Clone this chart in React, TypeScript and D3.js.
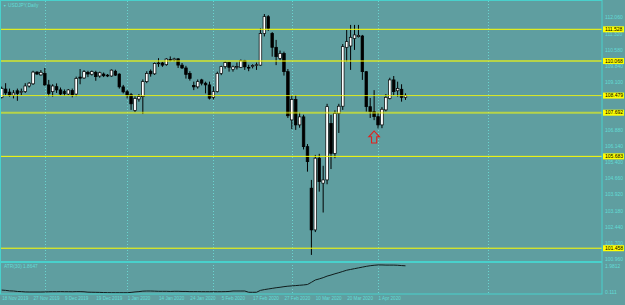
import React, { useEffect, useRef } from "react";
import * as d3 from "d3";

// daily bars, USDJPY
const dates = [
  "2019-11-15", "2019-11-18", "2019-11-19", "2019-11-20", "2019-11-21", "2019-11-22", "2019-11-25", "2019-11-26", "2019-11-27", "2019-11-28", "2019-11-29",
  "2019-12-02", "2019-12-03", "2019-12-04", "2019-12-05", "2019-12-06", "2019-12-09", "2019-12-10", "2019-12-11", "2019-12-12", "2019-12-13",
  "2019-12-16", "2019-12-17", "2019-12-18", "2019-12-19", "2019-12-20", "2019-12-23", "2019-12-24", "2019-12-26", "2019-12-27", "2019-12-30", "2019-12-31",
  "2020-01-02", "2020-01-03", "2020-01-06", "2020-01-07", "2020-01-08", "2020-01-09", "2020-01-10", "2020-01-13", "2020-01-14", "2020-01-15", "2020-01-16",
  "2020-01-17", "2020-01-20", "2020-01-21", "2020-01-22", "2020-01-23", "2020-01-24", "2020-01-27", "2020-01-28", "2020-01-29", "2020-01-30", "2020-01-31",
  "2020-02-03", "2020-02-04", "2020-02-05", "2020-02-06", "2020-02-07", "2020-02-10", "2020-02-11", "2020-02-12", "2020-02-13", "2020-02-14",
  "2020-02-17", "2020-02-18", "2020-02-19", "2020-02-20", "2020-02-21", "2020-02-24", "2020-02-25", "2020-02-26", "2020-02-27", "2020-02-28",
  "2020-03-02", "2020-03-03", "2020-03-04", "2020-03-05", "2020-03-06", "2020-03-09", "2020-03-10", "2020-03-11", "2020-03-12", "2020-03-13",
  "2020-03-16", "2020-03-17", "2020-03-18", "2020-03-19", "2020-03-20", "2020-03-23", "2020-03-24", "2020-03-25", "2020-03-26", "2020-03-27",
  "2020-03-30", "2020-03-31", "2020-04-01", "2020-04-02", "2020-04-03", "2020-04-06", "2020-04-07", "2020-04-08", "2020-04-09", "2020-04-10",
];

const open = [
  108.40, 108.78, 108.64, 108.50, 108.70, 108.62, 108.66, 108.92, 109.02, 109.56, 109.43,
  109.50, 108.97, 108.66, 108.89, 108.74, 108.66, 108.55, 108.71, 108.55, 109.33,
  109.29, 109.55, 109.46, 109.55, 109.38, 109.47, 109.42, 109.38, 109.60, 109.47, 108.88,
  108.66, 108.52, 107.80, 108.32, 108.43, 109.12, 109.60, 109.48, 109.95, 109.98, 109.90,
  110.14, 110.12, 110.17, 109.88, 109.75, 109.50, 108.95, 108.88, 109.20, 109.05, 108.97,
  108.40, 108.66, 109.50, 109.81, 110.00, 109.69, 109.80, 109.78, 110.08, 109.78,
  109.82, 109.88, 109.88, 111.34, 112.11, 111.34, 110.70, 110.19, 110.42, 109.58,
  107.36, 108.30, 107.13, 107.50, 106.13, 104.22, 102.30, 105.60, 104.45, 104.60,
  107.20, 105.82, 107.66, 107.99, 110.70, 110.76, 111.11, 111.19, 111.22, 109.58,
  107.97, 107.74, 107.51, 107.13, 107.82, 108.35, 109.20, 108.70, 108.77, 108.40,
];

const high = [
  108.89, 109.05, 108.80, 108.73, 108.80, 108.80, 109.05, 109.10, 109.62, 109.60, 109.65,
  109.75, 109.20, 109.00, 109.04, 108.85, 108.76, 108.78, 108.80, 109.35, 109.70,
  109.65, 109.62, 109.63, 109.62, 109.58, 109.54, 109.47, 109.68, 109.67, 109.50, 108.97,
  108.74, 108.60, 108.45, 108.55, 109.22, 109.60, 109.68, 110.00, 110.20, 110.03, 110.20,
  110.28, 110.22, 110.20, 109.98, 109.85, 109.60, 109.12, 109.22, 109.25, 109.12, 109.12,
  108.90, 109.58, 109.85, 110.05, 110.03, 109.86, 110.00, 110.14, 110.12, 109.90,
  109.92, 110.00, 111.57, 112.23, 112.18, 111.40, 111.04, 110.55, 110.50, 109.70,
  108.50, 108.50, 107.70, 107.60, 106.25, 104.60, 105.75, 105.80, 105.25, 108.10,
  107.59, 107.80, 108.10, 110.85, 111.50, 111.73, 111.73, 111.73, 111.27, 109.60,
  108.37, 108.73, 107.70, 107.95, 108.55, 109.30, 109.38, 109.12, 109.00, 108.58,
];

const low = [
  108.35, 108.50, 108.43, 108.35, 108.24, 108.50, 108.60, 108.85, 108.97, 109.43, 109.40,
  108.93, 108.45, 108.43, 108.60, 108.50, 108.46, 108.50, 108.40, 108.45, 109.00,
  109.25, 109.33, 109.40, 109.16, 109.30, 109.33, 109.33, 109.35, 109.38, 108.80, 108.58,
  108.35, 107.82, 107.72, 108.20, 107.63, 109.05, 109.35, 109.43, 109.80, 109.80, 109.85,
  110.05, 110.05, 109.75, 109.70, 109.26, 109.17, 108.73, 108.80, 108.95, 108.58, 108.30,
  108.30, 108.62, 109.42, 109.72, 109.58, 109.58, 109.68, 109.75, 109.66, 109.60,
  109.73, 109.66, 109.85, 111.20, 111.46, 110.27, 109.88, 110.10, 109.40, 107.45,
  106.94, 106.90, 107.00, 106.00, 104.98, 101.15, 102.20, 104.06, 103.10, 104.40,
  105.10, 105.60, 106.76, 107.82, 110.04, 109.66, 110.58, 111.15, 109.20, 107.74,
  107.45, 107.35, 106.97, 106.98, 107.75, 108.30, 108.50, 108.43, 108.20, 108.28,
];

const close = [
  108.81, 108.60, 108.50, 108.60, 108.58, 108.67, 108.92, 109.05, 109.56, 109.47, 109.55,
  108.97, 108.58, 108.92, 108.74, 108.55, 108.58, 108.74, 108.51, 109.27, 109.28,
  109.58, 109.47, 109.58, 109.35, 109.53, 109.39, 109.38, 109.65, 109.42, 108.88, 108.65,
  108.50, 108.10, 108.35, 108.43, 109.12, 109.50, 109.48, 109.96, 109.98, 109.88, 110.16,
  110.12, 110.17, 109.88, 109.75, 109.45, 109.27, 108.88, 109.12, 109.05, 108.97, 108.36,
  108.66, 109.50, 109.81, 110.00, 109.78, 109.80, 109.82, 110.08, 109.80, 109.77,
  109.86, 109.90, 111.34, 112.11, 111.57, 110.70, 110.27, 110.42, 109.58, 107.55,
  108.30, 107.13, 107.50, 106.13, 105.44, 102.30, 105.60, 104.52, 104.60, 107.97,
  105.82, 107.66, 107.99, 110.73, 110.96, 111.16, 111.27, 111.25, 109.58, 107.97,
  107.74, 107.51, 107.13, 107.85, 108.40, 109.20, 108.66, 108.81, 108.40, 108.48,
];

// ATR(30) values
const atr = [
  0.30, 0.28, 0.25, 0.24, 0.21, 0.20, 0.18, 0.175, 0.175, 0.175, 0.175,
  0.18, 0.19, 0.195, 0.195, 0.20, 0.195, 0.195, 0.19, 0.20, 0.20,
  0.19, 0.165, 0.16, 0.155, 0.15, 0.14, 0.135, 0.13, 0.13, 0.13, 0.13,
  0.13, 0.15, 0.18, 0.20, 0.23, 0.24, 0.24, 0.23, 0.22, 0.22, 0.22,
  0.21, 0.22, 0.22, 0.21, 0.21, 0.20, 0.20, 0.20, 0.195, 0.195, 0.195,
  0.195, 0.195, 0.195, 0.20, 0.21, 0.24, 0.24, 0.24, 0.24, 0.16,
  0.155, 0.16, 0.28, 0.33, 0.37, 0.41, 0.45, 0.48, 0.52, 0.55,
  0.57, 0.59, 0.61, 0.63, 0.66, 0.80, 0.95, 1.02, 1.10, 1.20,
  1.27, 1.35, 1.42, 1.50, 1.58, 1.63, 1.68, 1.73, 1.78, 1.83,
  1.87, 1.90, 1.92, 1.92, 1.91, 1.91, 1.91, 1.90, 1.88, 1.8647,
];

const priceTicks = [
  112.06, 111.32, 110.58, 109.84, 109.1, 108.36, 107.62, 106.88,
  106.14, 105.4, 104.66, 103.92, 103.18, 102.44, 101.7, 100.96,
];
const levels = [111.528, 110.068, 108.479, 107.692, 105.683, 101.458];
const timeLabels = [
  "18 Nov 2019", "27 Nov 2019", "9 Dec 2019", "19 Dec 2019", "1 Jan 2020", "14 Jan 2020", "24 Jan 2020",
  "5 Feb 2020", "17 Feb 2020", "27 Feb 2020", "10 Mar 2020", "20 Mar 2020", "1 Apr 2020",
];
const atrTicks = [1.9812, 0.111];
const arrowBar = 95;
const arrowPrice = 106.85;
const futureGridBar = 124;
const title = "USDJPY,Daily";
const atrName = "ATR(30)";

// styles kept apart from the values
const levelWidths = [1, 2, 1, 2, 1, 1];
const levelAlpha = [1, 0.55, 0.8, 0.55, 1, 1];

const BG = "#5f9ea0";
const CYAN = "#48d1cc";
const TXT = "#62dcd6";
const FONT = "'Liberation Sans', Arial, sans-serif";

const App = () => {
  const svgRef = useRef(null);

  useEffect(() => {
    drawChart();
  }, []);

  const drawChart = () => {
    const width = 625;
    const height = 305;
    const svg = d3.select(svgRef.current).attr("width", width).attr("height", height);
    svg.selectAll("*").remove();

    const xScale = d3.scaleLinear().domain([0, 153]).range([1.7, 601.5]);
    const yScale = d3.scaleLinear().domain([100.87, 112.784]).range([261, 2]);
    const atrScale = d3.scaleLinear().domain([0.111, 1.9812]).range([293, 264]);
    const axisX = 602;

    svg.append("rect").attr("width", width).attr("height", height).attr("fill", BG);

    // month grid
    const gridBars = dates
      .map((d, i) => (i > 0 && d.slice(5, 7) !== dates[i - 1].slice(5, 7) ? i : -1))
      .filter((i) => i > 0)
      .concat([futureGridBar]);
    svg
      .selectAll(".grid")
      .data(gridBars)
      .enter()
      .append("line")
      .attr("x1", (d) => Math.round(xScale(d)) + 0.5)
      .attr("x2", (d) => Math.round(xScale(d)) + 0.5)
      .attr("y1", 1)
      .attr("y2", 294)
      .attr("stroke", "#6fe3dd")
      .attr("stroke-width", 1)
      .attr("stroke-dasharray", "1,2")
      .attr("opacity", 0.8);

    // candles
    const bars = svg.append("g");
    dates.forEach((d, i) => {
      const x = xScale(i);
      bars
        .append("line")
        .attr("x1", x)
        .attr("x2", x)
        .attr("y1", yScale(high[i]))
        .attr("y2", yScale(low[i]))
        .attr("stroke", "#000")
        .attr("stroke-width", 1);
      const top = yScale(Math.max(open[i], close[i]));
      const bot = yScale(Math.min(open[i], close[i]));
      bars
        .append("rect")
        .attr("x", x - 1.3)
        .attr("width", 2.6)
        .attr("y", top)
        .attr("height", Math.max(bot - top, 0.8))
        .attr("fill", close[i] >= open[i] ? "#fff" : "#000")
        .attr("stroke", "#000")
        .attr("stroke-width", 0.7);
    });

    // horizontal levels
    svg
      .selectAll(".level")
      .data(levels)
      .enter()
      .append("line")
      .attr("x1", 1)
      .attr("x2", axisX)
      .attr("y1", (d) => yScale(d))
      .attr("y2", (d) => yScale(d))
      .attr("stroke", "#ffff00")
      .attr("stroke-width", (d, i) => levelWidths[i])
      .attr("stroke-opacity", (d, i) => levelAlpha[i]);

    // up arrow
    const ax = xScale(arrowBar);
    const ay = yScale(arrowPrice);
    svg
      .append("path")
      .attr(
        "d",
        `M${ax},${ay} L${ax + 5.3},${ay + 5.8} L${ax + 2.6},${ay + 5.8} L${ax + 2.6},${ay + 12} L${ax - 2.6},${ay + 12} L${ax - 2.6},${ay + 5.8} L${ax - 5.3},${ay + 5.8} Z`
      )
      .attr("fill", "none")
      .attr("stroke", "#e3201c")
      .attr("stroke-width", 1.1);

    // ATR window
    const atrLine = d3
      .line()
      .x((d, i) => xScale(i))
      .y((d) => atrScale(d));
    svg
      .append("path")
      .datum(atr)
      .attr("d", atrLine)
      .attr("fill", "none")
      .attr("stroke", "#101c1c")
      .attr("stroke-width", 1);

    // frames
    svg
      .append("rect")
      .attr("x", 0.5)
      .attr("y", 0.5)
      .attr("width", axisX - 0.5)
      .attr("height", 293.5)
      .attr("fill", "none")
      .attr("stroke", CYAN)
      .attr("stroke-width", 1);
    svg
      .append("line")
      .attr("x1", 0)
      .attr("x2", axisX)
      .attr("y1", 262)
      .attr("y2", 262)
      .attr("stroke", CYAN)
      .attr("stroke-width", 1.8);

    // price axis, ticks hidden behind a level label are skipped like the terminal does
    const shownTicks = priceTicks.filter((t) =>
      levels.every((l) => Math.abs(yScale(t) - yScale(l)) >= 4)
    );
    svg
      .selectAll(".ptick")
      .data(shownTicks)
      .enter()
      .append("text")
      .attr("x", axisX + 3)
      .attr("y", (d) => yScale(d))
      .attr("dy", "0.35em")
      .attr("fill", TXT)
      .style("font-family", FONT)
      .style("font-size", "5px")
      .text((d) => d.toFixed(3));

    const lab = svg.selectAll(".lvl").data(levels).enter().append("g");
    lab
      .append("rect")
      .attr("x", axisX + 1)
      .attr("y", (d) => yScale(d) - 3)
      .attr("width", 21)
      .attr("height", 6)
      .attr("fill", "#ffff00");
    lab
      .append("text")
      .attr("x", axisX + 3)
      .attr("y", (d) => yScale(d))
      .attr("dy", "0.35em")
      .attr("fill", "#000")
      .style("font-family", FONT)
      .style("font-size", "5px")
      .text((d) => d.toFixed(3));

    // ATR axis
    svg
      .selectAll(".atick")
      .data(atrTicks)
      .enter()
      .append("text")
      .attr("x", axisX + 3)
      .attr("y", (d, i) => atrScale(d) + (i === 0 ? 2 : -1))
      .attr("dy", "0.35em")
      .attr("fill", TXT)
      .style("font-family", FONT)
      .style("font-size", "5px")
      .text((d) => String(d));

    // time axis
    svg
      .selectAll(".ttick")
      .data(timeLabels)
      .enter()
      .append("text")
      .attr("x", (d, i) => xScale(i * 8) + 0.5)
      .attr("y", 298.5)
      .attr("dy", "0.35em")
      .attr("fill", TXT)
      .style("font-family", FONT)
      .style("font-size", "4.6px")
      .text((d) => d);

    // titles
    svg
      .append("text")
      .attr("x", 3)
      .attr("y", 5.5)
      .attr("dy", "0.35em")
      .attr("fill", TXT)
      .style("font-family", FONT)
      .style("font-size", "3.6px")
      .text("▼");
    svg
      .append("text")
      .attr("x", 8)
      .attr("y", 5.5)
      .attr("dy", "0.35em")
      .attr("fill", TXT)
      .style("font-family", FONT)
      .style("font-size", "4.8px")
      .text(title);
    svg
      .append("text")
      .attr("x", 4)
      .attr("y", 266.5)
      .attr("dy", "0.35em")
      .attr("fill", TXT)
      .style("font-family", FONT)
      .style("font-size", "4.8px")
      .text(`${atrName} ${atr[atr.length - 1].toFixed(4)}`);
  };

  return <svg ref={svgRef} style={{ position: "absolute", left: 0, top: 0, display: "block" }}></svg>;
};

export default App;
